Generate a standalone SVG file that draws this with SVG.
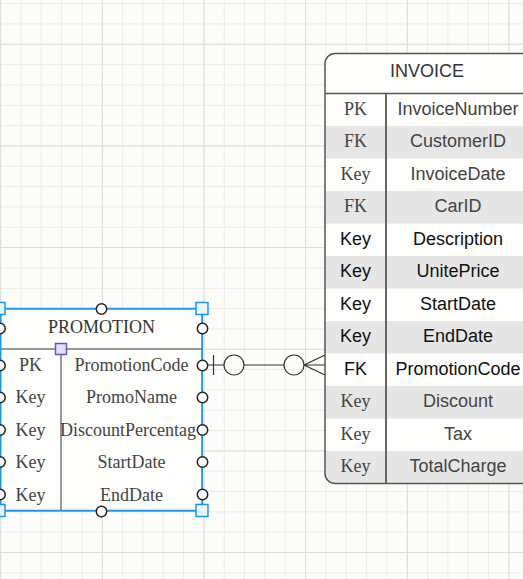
<svg xmlns="http://www.w3.org/2000/svg" width="523" height="579" viewBox="0 0 523 579">
<style>
.sans{font-family:"Liberation Sans",Arial,sans-serif;font-size:18px;text-anchor:middle}
.serif{font-family:"Liberation Serif","Times New Roman",serif;font-size:18px;text-anchor:middle}
.g{fill:#444}
.k{fill:#111}
.hd{fill:#333}
.pt{fill:#fff;stroke:#222;stroke-width:1.5}
.hdl{fill:#e8f5ff;stroke:#1e96e6;stroke-width:1.5}
.conn{fill:none;stroke:#333;stroke-width:1.2}
.grayrow{fill:#e6e6e6}
</style>
<defs>
<pattern id="minor" patternUnits="userSpaceOnUse" x="0.15" y="3.14" width="20.33" height="20.33">
<path d="M0.5 0V20.33M0 0.5H20.33" stroke="#ebebe7" stroke-width="1" fill="none"/>
</pattern>
<pattern id="major" patternUnits="userSpaceOnUse" x="0.15" y="43.8" width="101.65" height="101.65">
<path d="M0.5 0V101.65M0 0.5H101.65" stroke="#dcdcda" stroke-width="1" fill="none"/>
</pattern>
<clipPath id="invclip">
<rect x="325" y="53.5" width="207" height="430" rx="10"/>
</clipPath>
</defs>
<rect width="523" height="579" fill="#fcfcf8"/>
<rect width="523" height="579" fill="url(#minor)"/>
<rect width="523" height="579" fill="url(#major)"/>

<g id="connectors">
<path class="conn" d="M202 365H224M244 365H284M304 365H325M213.5 355V375M304 365L325 355M304 365L325 375"/>
<circle class="conn" cx="234" cy="365" r="10" fill="#fcfcf8"/>
<circle class="conn" cx="294" cy="365" r="10" fill="#fcfcf8"/>
</g>

<g id="invoice">
<rect x="325" y="53.5" width="207" height="430" rx="10" fill="#fdfdfb"/>
<g clip-path="url(#invclip)">
<rect class="grayrow" x="325" y="126" width="207" height="32.5"/>
<rect class="grayrow" x="325" y="191" width="207" height="32.5"/>
<rect class="grayrow" x="325" y="256" width="207" height="32.5"/>
<rect class="grayrow" x="325" y="321" width="207" height="32.5"/>
<rect class="grayrow" x="325" y="386" width="207" height="32.5"/>
<rect class="grayrow" x="325" y="451" width="207" height="32.5"/>
</g>
<rect x="325" y="53.5" width="207" height="430" rx="10" fill="none" stroke="#555" stroke-width="1.5"/>
<path d="M325 93.5H532" stroke="#555" stroke-width="1.5"/>
<path d="M386 93.5V483.5" stroke="#666" stroke-width="2"/>
<text class="sans hd" x="427" y="77">INVOICE</text>
<text class="serif g" x="355.5" y="114.5">PK</text><text class="sans g" x="458" y="114.5">InvoiceNumber</text>
<text class="serif g" x="355.5" y="147">FK</text><text class="sans g" x="458" y="147">CustomerID</text>
<text class="serif g" x="355.5" y="179.5">Key</text><text class="sans g" x="458" y="179.5">InvoiceDate</text>
<text class="serif g" x="355.5" y="212">FK</text><text class="sans g" x="458" y="212">CarID</text>
<text class="sans k" x="355.5" y="244.5">Key</text><text class="sans k" x="458" y="244.5">Description</text>
<text class="sans k" x="355.5" y="277">Key</text><text class="sans k" x="458" y="277">UnitePrice</text>
<text class="sans k" x="355.5" y="309.5">Key</text><text class="sans k" x="458" y="309.5">StartDate</text>
<text class="sans k" x="355.5" y="342">Key</text><text class="sans k" x="458" y="342">EndDate</text>
<text class="sans k" x="355.5" y="374.5">FK</text><text class="sans k" x="458" y="374.5">PromotionCode</text>
<text class="serif g" x="355.5" y="407">Key</text><text class="sans g" x="458" y="407">Discount</text>
<text class="serif g" x="355.5" y="439.5">Key</text><text class="sans g" x="458" y="439.5">Tax</text>
<text class="serif g" x="355.5" y="472">Key</text><text class="sans g" x="458" y="472">TotalCharge</text>
</g>

<g id="promotion">
<rect x="0" y="309" width="202" height="202" fill="#fdfdfb" stroke="#777" stroke-width="1.2"/>
<path d="M0 349H202" stroke="#333" stroke-width="1.2"/>
<path d="M61 349V511" stroke="#999" stroke-width="2"/>
<text class="serif hd" x="101.5" y="332.5">PROMOTION</text>
<text class="serif g" x="30.5" y="370.5">PK</text><text class="serif g" x="131.5" y="370.5">PromotionCode</text>
<text class="serif g" x="30.5" y="403">Key</text><text class="serif g" x="131.5" y="403">PromoName</text>
<text class="serif g" x="30.5" y="435.5">Key</text><text class="serif g" x="60" y="435.5" style="text-anchor:start">DiscountPercentag</text>
<text class="serif g" x="30.5" y="468">Key</text><text class="serif g" x="131.5" y="468">StartDate</text>
<text class="serif g" x="30.5" y="500.5">Key</text><text class="serif g" x="131.5" y="500.5">EndDate</text>
<rect x="0.75" y="308.5" width="201.5" height="202" fill="none" stroke="#1e96e6" stroke-width="1.5"/>
<circle class="pt" cx="101.5" cy="309" r="5.2"/>
<circle class="pt" cx="101.5" cy="511.5" r="5.2"/>
<circle class="pt" cx="202.5" cy="328.5" r="5.2"/>
<circle class="pt" cx="202.5" cy="365.5" r="5.2"/>
<circle class="pt" cx="202.5" cy="397.5" r="5.2"/>
<circle class="pt" cx="202.5" cy="430" r="5.2"/>
<circle class="pt" cx="202.5" cy="462" r="5.2"/>
<circle class="pt" cx="202.5" cy="494.5" r="5.2"/>
<circle class="pt" cx="0" cy="328.5" r="5.2"/>
<circle class="pt" cx="0" cy="365.5" r="5.2"/>
<circle class="pt" cx="0" cy="397.5" r="5.2"/>
<circle class="pt" cx="0" cy="430" r="5.2"/>
<circle class="pt" cx="0" cy="462" r="5.2"/>
<circle class="pt" cx="0" cy="494.5" r="5.2"/>
<rect class="hdl" x="196" y="302.5" width="12" height="12"/>
<rect class="hdl" x="196" y="504.5" width="12" height="12"/>
<rect class="hdl" x="-7" y="302.5" width="12" height="12"/>
<rect class="hdl" x="-7" y="504.5" width="12" height="12"/>
<rect x="55.5" y="343.5" width="11" height="11" fill="#e2e0f2" stroke="#6a55c0" stroke-width="1.5"/>
</g>
</svg>
